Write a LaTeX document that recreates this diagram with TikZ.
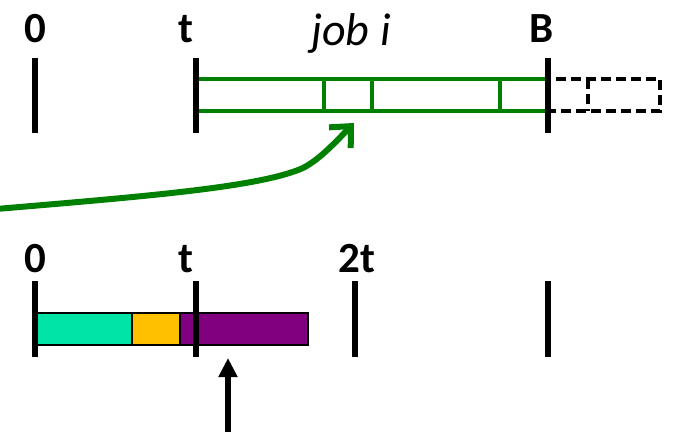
\documentclass[tikz,border=0pt]{standalone}
\usepackage{fontspec}
\setmainfont{Carlito}
\usetikzlibrary{arrows.meta}
\definecolor{jobgreen}{RGB}{0,128,0}
\definecolor{tealc}{RGB}{0,228,168}
\definecolor{orangec}{RGB}{255,192,0}
\definecolor{purplec}{RGB}{128,0,128}
\begin{document}
\begin{tikzpicture}[x=1pt,y=-1pt,
  lbl/.style={anchor=base,inner sep=0pt,font=\fontsize{43}{46}\selectfont\bfseries},
  joblbl/.style={anchor=base,inner sep=0pt,font=\fontsize{46}{48}\selectfont\itshape},
  tick/.style={line width=6pt},
  gline/.style={draw=jobgreen,line width=3.5pt},
  dline/.style={draw=black,line width=3.2pt,dash pattern=on 10pt off 5pt},
  seg/.style={draw=black,line width=2.4pt}]
\useasboundingbox (0,0) rectangle (673,432);
% top row labels
\node[lbl] (l0) at (35,42) {0};
\node[lbl] (lt) at (186,42) {t};
\node[joblbl] (job) at (351,45) {job i};
\node[lbl] (lB) at (542,42) {B};
% top row: job i boxes
\draw[dline] (548,79) rectangle (660,111);
\draw[dline] (588,79) -- (588,111);
\draw[gline] (196,79) rectangle (548,111);
\foreach \x in {324,372,500} \draw[gline] (\x,79) -- (\x,111);
% top ticks
\foreach \x in {35,196,548} \draw[tick] (\x,58) -- (\x,133);
% green arrow
\coordinate (gsrc) at (-4,209);
\coordinate (gbend) at (303,168);
\coordinate (gtip) at (354,123);
\draw[jobgreen,line width=6pt,line cap=round,line join=round,
  -{Straight Barb[length=16pt,width=30pt,line width=6pt]}]
  (gsrc) .. controls (150,196) and (260,187) .. (gbend)
  .. controls (318,160) and (330,148) .. (gtip);
% bottom row labels
\node[lbl] (b0) at (35,272) {0};
\node[lbl] (bt) at (186,272) {t};
\node[lbl] (b2t) at (357,272) {2t};
% bar
\draw[seg,fill=tealc] (36,313) rectangle (132,345);
\draw[seg,fill=orangec] (132,313) rectangle (180,345);
\draw[seg,fill=purplec] (180,313) rectangle (308,345);
% bottom ticks
\foreach \x in {35,196,355,548} \draw[tick] (\x,281) -- (\x,357);
% black arrow
\coordinate (asrc) at (228,432);
\coordinate (atip) at (228,358);
\draw[line width=6pt,-{Triangle[length=19pt,width=18pt]}] (asrc) -- (atip);
\end{tikzpicture}
\end{document}
